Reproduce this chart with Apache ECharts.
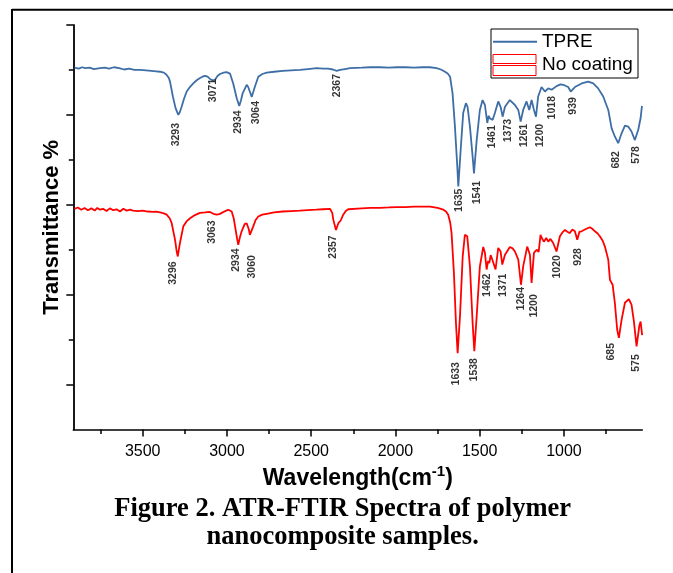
<!DOCTYPE html>
<html><head><meta charset="utf-8">
<script src="https://cdn.jsdelivr.net/npm/echarts@6/dist/echarts.min.js"></script>
<style>html,body{margin:0;padding:0;background:#fff}#c{width:673px;height:573px}</style>
</head><body><div id="c"></div>
<script>
// ---------- data ----------
const seriesNames = ['TPRE', 'No coating'];
const xTickLabels = [3500, 3000, 2500, 2000, 1500, 1000];
const xMinorTicks = [3750, 3250, 2750, 2250, 1750, 1250, 750];
const yMajorTicks = [10, 30, 50, 70, 90];
const yMinorTicks = [20, 40, 60, 80];

const tpreSpectrum = [
 [3905,80.5],[3880,80.3],[3860,80.6],[3840,80.4],[3815,80.5],[3790,80.2],[3754,80.4],[3725,80.5],[3700,80.3],[3670,80.6],
 [3640,80.4],[3610,80.1],[3580,80.3],[3550,80.0],[3516,80.0],[3480,79.9],[3450,79.8],[3420,79.7],[3397,79.6],[3375,79.4],
 [3360,79.0],[3345,78.2],[3338,77.4],[3321,74.1],[3305,71.5],[3289,70.0],[3280,70.6],[3269,71.8],[3255,73.6],[3239,75.2],
 [3220,76.2],[3200,77.0],[3180,77.7],[3160,78.2],[3145,78.5],[3131,78.7],[3115,78.5],[3101,78.0],[3085,77.7],[3071,77.8],
 [3055,78.7],[3041,79.1],[3020,79.4],[3002,79.5],[2982,79.2],[2963,77.0],[2942,73.7],[2927,72.0],[2917,73.2],[2907,74.8],
 [2883,76.7],[2874,76.2],[2853,74.0],[2834,76.3],[2814,78.5],[2790,79.1],[2764,79.4],[2720,79.6],[2668,79.8],[2620,79.9],
 [2567,80.0],[2520,80.2],[2468,80.4],[2430,80.3],[2400,80.3],[2371,80.1],[2360,79.7],[2349,79.8],[2329,80.0],[2300,80.2],
 [2270,80.4],[2200,80.5],[2150,80.6],[2092,80.6],[2040,80.5],[1990,80.6],[1940,80.6],[1890,80.5],[1840,80.6],[1795,80.6],
 [1756,80.4],[1730,80.1],[1706,79.6],[1690,79.2],[1676,78.5],[1661,74.8],[1647,67.4],[1633,58.5],[1627,54.1],[1613,62.2],
 [1598,70.4],[1582,72.6],[1572,71.8],[1558,67.4],[1542,60.7],[1534,57.0],[1518,64.4],[1499,71.1],[1483,73.3],[1469,72.2],
 [1455,68.2],[1447,69.8],[1439,69.2],[1423,68.9],[1410,70.4],[1390,73.0],[1376,71.8],[1364,69.6],[1350,71.8],[1321,73.3],
 [1291,72.2],[1271,71.1],[1257,68.5],[1242,71.1],[1222,73.0],[1206,71.1],[1192,73.3],[1178,71.1],[1166,69.6],[1153,74.1],
 [1133,76.2],[1113,75.2],[1093,75.9],[1073,75.6],[1044,76.4],[1020,76.8],[1004,76.7],[975,76.2],[960,75.2],[935,76.2],
 [895,77.0],[856,77.4],[826,77.0],[797,75.9],[767,74.1],[737,71.1],[717,67.0],[698,65.2],[678,63.7],[658,65.9],
 [638,67.6],[619,67.4],[599,66.3],[579,64.4],[559,66.7],[545,69.3],[537,72.0]
];

const noCoatingSpectrum = [
 [3905,49.1],[3885,49.4],[3865,48.9],[3845,49.3],[3825,48.8],[3805,49.2],[3785,48.7],[3770,49.3],[3754,48.9],[3735,49.1],
 [3715,48.6],[3695,49.2],[3675,48.8],[3655,49.0],[3635,48.5],[3615,49.1],[3595,48.7],[3575,48.9],[3558,48.7],[3530,48.6],
 [3500,48.7],[3470,48.5],[3440,48.4],[3420,48.5],[3397,48.3],[3375,48.1],[3358,47.8],[3340,47.0],[3328,45.9],[3308,42.2],
 [3300,40.0],[3292,38.5],[3279,41.5],[3259,45.2],[3240,46.3],[3219,47.0],[3190,47.7],[3160,48.2],[3130,48.3],[3101,48.4],
 [3080,48.0],[3061,47.8],[3045,47.9],[3031,48.2],[3010,48.6],[2992,48.9],[2972,48.5],[2960,47.0],[2952,45.2],[2940,42.5],
 [2933,41.1],[2923,42.8],[2913,44.1],[2895,45.7],[2883,45.9],[2870,44.5],[2864,43.3],[2844,45.2],[2830,46.6],[2814,47.4],
 [2790,47.8],[2764,48.0],[2720,48.3],[2670,48.5],[2620,48.6],[2567,48.7],[2520,48.8],[2470,48.9],[2430,49.0],[2389,49.1],
 [2375,48.2],[2369,46.7],[2353,44.4],[2339,45.9],[2325,46.5],[2310,47.8],[2295,48.6],[2280,49.0],[2200,49.2],[2150,49.3],
 [2092,49.3],[2040,49.4],[1990,49.5],[1940,49.5],[1890,49.6],[1840,49.6],[1795,49.6],[1750,49.3],[1716,48.9],[1700,48.5],
 [1687,47.8],[1675,46.0],[1667,43.7],[1653,34.8],[1641,23.7],[1631,17.0],[1617,25.2],[1601,38.5],[1588,43.3],[1574,43.0],
 [1558,36.3],[1542,23.7],[1532,17.4],[1518,25.2],[1499,36.3],[1479,40.6],[1469,39.3],[1459,35.6],[1450,37.5],[1443,37.0],
 [1435,38.8],[1429,38.2],[1420,38.5],[1406,35.6],[1390,40.4],[1376,39.6],[1366,36.7],[1350,38.9],[1321,40.6],[1305,40.3],
 [1291,39.6],[1271,37.8],[1255,32.2],[1242,36.3],[1218,40.7],[1202,38.9],[1192,32.6],[1178,39.3],[1162,40.0],[1150,39.5],
 [1139,43.3],[1130,42.5],[1119,41.8],[1105,42.6],[1093,41.8],[1080,42.4],[1064,41.5],[1044,39.6],[1024,43.0],[1010,43.8],
 [994,44.4],[980,44.0],[965,43.7],[950,44.5],[935,44.1],[921,42.2],[908,44.0],[895,44.1],[870,44.6],[846,45.0],
 [830,44.6],[816,44.1],[800,43.6],[787,43.0],[770,42.0],[757,40.7],[737,37.8],[727,33.3],[711,32.2],[698,28.2],
 [684,22.2],[674,20.4],[658,24.4],[638,28.2],[615,29.0],[599,27.8],[585,24.1],[569,18.5],[553,23.0],[545,24.0],
 [539,23.7],[536,21.0]
];

// peak annotations: [text, wavenumber, transmittance] (text centre)
const tprePeakLabels = [
 ['3293',3304,65.6],['3071',3081,75.4],['2934',2933,68.4],['3064',2828,70.5],['2367',2344,76.5],
 ['1635',1622,51.0],['1541',1518,52.7],['1461',1426,65.1],['1373',1331,66.5],['1261',1237,65.4],
 ['1200',1143,65.4],['1018',1073,71.6],['939',945,72.0],['682',688,60.0],['578',573,61.1]
];
const noCoatingPeakLabels = [
 ['3296',3319,34.8],['3063',3091,43.9],['2934',2947,37.7],['3060',2853,36.2],['2357',2370,40.6],
 ['1633',1641,12.4],['1538',1534,13.3],['1462',1455,32.1],['1371',1360,32.1],['1264',1255,29.1],
 ['1200',1178,27.5],['1020',1043,36.2],['928',915,38.4],['685',723,17.3],['575',573,14.8]
];

const captionLines = ['Figure 2. ATR-FTIR Spectra of polymer', 'nanocomposite samples.'];
const xTitle = 'Wavelength(cm';
const yTitle = 'Transmittance %';

// ---------- chart ----------
const BLUE = '#3D6EA6', RED = '#FF0000';
const SANS = 'Arial, "Liberation Sans", sans-serif';
const SERIF = '"Times New Roman", "Liberation Serif", serif';
const X_MIN = 535, X_MAX = 3912;
const gridBox = {left: 73.3, right: 30.7, top: 25, bottom: 143.5, outerBoundsMode: 'none'};

function peakSeries(arr, name) {
  return {
    type: 'scatter', name: name + ' peaks', data: arr.map(d => [d[1], d[2], d[0]]),
    symbolSize: 0, silent: true, z: 5,
    label: {show: true, position: 'inside', rotate: 90, formatter: p => p.value[2],
      fontSize: 10.5, fontWeight: 'bold', color: '#000', fontFamily: SANS}
  };
}

const chart = echarts.init(document.getElementById('c'), null, {renderer: 'canvas'});
chart.setOption({
  backgroundColor: '#fff',
  animation: false,
  grid: [Object.assign({}, gridBox), Object.assign({}, gridBox)],
  xAxis: [
    {type: 'value', gridIndex: 0, min: X_MIN, max: X_MAX, inverse: true, position: 'bottom',
     axisLine: {show: true, onZero: false, lineStyle: {color: '#000', width: 1.5}},
     axisTick: {show: true, customValues: xTickLabels, length: 7, lineStyle: {color: '#000', width: 1.5}},
     axisLabel: {show: true, customValues: xTickLabels, formatter: v => String(v), fontSize: 16, color: '#000', margin: 14, fontFamily: SANS},
     splitLine: {show: false},
     name: '{b|' + xTitle + '}{s|-1}{b|)}', nameLocation: 'middle', nameGap: 35,
     nameTextStyle: {rich: {
       b: {fontSize: 23, fontWeight: 'bold', color: '#000', fontFamily: SANS, lineHeight: 26, verticalAlign: 'bottom'},
       s: {fontSize: 15, fontWeight: 'bold', color: '#000', fontFamily: SANS, lineHeight: 15, verticalAlign: 'top'}
     }}},
    {type: 'value', gridIndex: 1, min: X_MIN, max: X_MAX, inverse: true, position: 'bottom',
     axisLine: {show: false, onZero: false},
     axisTick: {show: true, customValues: xMinorTicks, length: 4.5, lineStyle: {color: '#000', width: 1.5}},
     axisLabel: {show: false}, splitLine: {show: false}}
  ],
  yAxis: [
    {type: 'value', gridIndex: 0, min: 0, max: 90, position: 'left',
     axisLine: {show: true, onZero: false, lineStyle: {color: '#000', width: 1.8}},
     axisTick: {show: true, customValues: yMajorTicks, length: 7, lineStyle: {color: '#000', width: 1.5}},
     axisLabel: {show: false}, splitLine: {show: false},
     name: yTitle, nameLocation: 'middle', nameGap: 10,
     nameTextStyle: {fontSize: 22, fontWeight: 'bold', color: '#000', fontFamily: SANS}},
    {type: 'value', gridIndex: 1, min: 0, max: 90, position: 'left',
     axisLine: {show: false, onZero: false},
     axisTick: {show: true, customValues: yMinorTicks, length: 4.5, lineStyle: {color: '#000', width: 1.5}},
     axisLabel: {show: false}, splitLine: {show: false}}
  ],
  series: [
    {type: 'line', name: seriesNames[0], data: tpreSpectrum, xAxisIndex: 0, yAxisIndex: 0,
     showSymbol: false, lineStyle: {color: BLUE, width: 1.8}, itemStyle: {color: BLUE}, z: 3},
    {type: 'line', name: seriesNames[1], data: noCoatingSpectrum, xAxisIndex: 0, yAxisIndex: 0,
     showSymbol: false, lineStyle: {color: RED, width: 1.8}, itemStyle: {color: RED}, z: 3},
    peakSeries(tprePeakLabels, seriesNames[0]),
    peakSeries(noCoatingPeakLabels, seriesNames[1])
  ],
  graphic: [
    // outer figure frame (top and left edges visible)
    {type: 'line', shape: {x1: 12, y1: 9.7, x2: 673, y2: 9.7}, style: {stroke: '#000', lineWidth: 2}, silent: true},
    {type: 'line', shape: {x1: 12, y1: 9, x2: 12, y2: 573}, style: {stroke: '#000', lineWidth: 2}, silent: true},
    // legend
    {type: 'rect', shape: {x: 491, y: 29, width: 147, height: 49}, style: {fill: '#fff', stroke: '#000', lineWidth: 1}, z: 10},
    {type: 'line', shape: {x1: 493, y1: 41.7, x2: 537, y2: 41.7}, style: {stroke: BLUE, lineWidth: 2}, z: 11},
    {type: 'rect', shape: {x: 493, y: 54.5, width: 43, height: 9}, style: {fill: 'none', stroke: RED, lineWidth: 1}, z: 11},
    {type: 'rect', shape: {x: 493, y: 65.5, width: 43, height: 10}, style: {fill: 'none', stroke: RED, lineWidth: 1}, z: 11},
    {type: 'text', x: 542, y: 42, style: {text: seriesNames[0], fontSize: 19, fontFamily: SANS, fill: '#000', verticalAlign: 'middle'}, z: 11},
    {type: 'text', x: 542, y: 65, style: {text: seriesNames[1], fontSize: 19, fontFamily: SANS, fill: '#000', verticalAlign: 'middle'}, z: 11},
    // caption
    {type: 'text', x: 342.6, y: 509.5, style: {text: captionLines[0], fontSize: 26.5, fontWeight: 'bold', fontFamily: SERIF, fill: '#000', align: 'center', verticalAlign: 'middle'}},
    {type: 'text', x: 342.6, y: 537, style: {text: captionLines[1], fontSize: 26.5, fontWeight: 'bold', fontFamily: SERIF, fill: '#000', align: 'center', verticalAlign: 'middle'}}
  ]
});
</script></body></html>
